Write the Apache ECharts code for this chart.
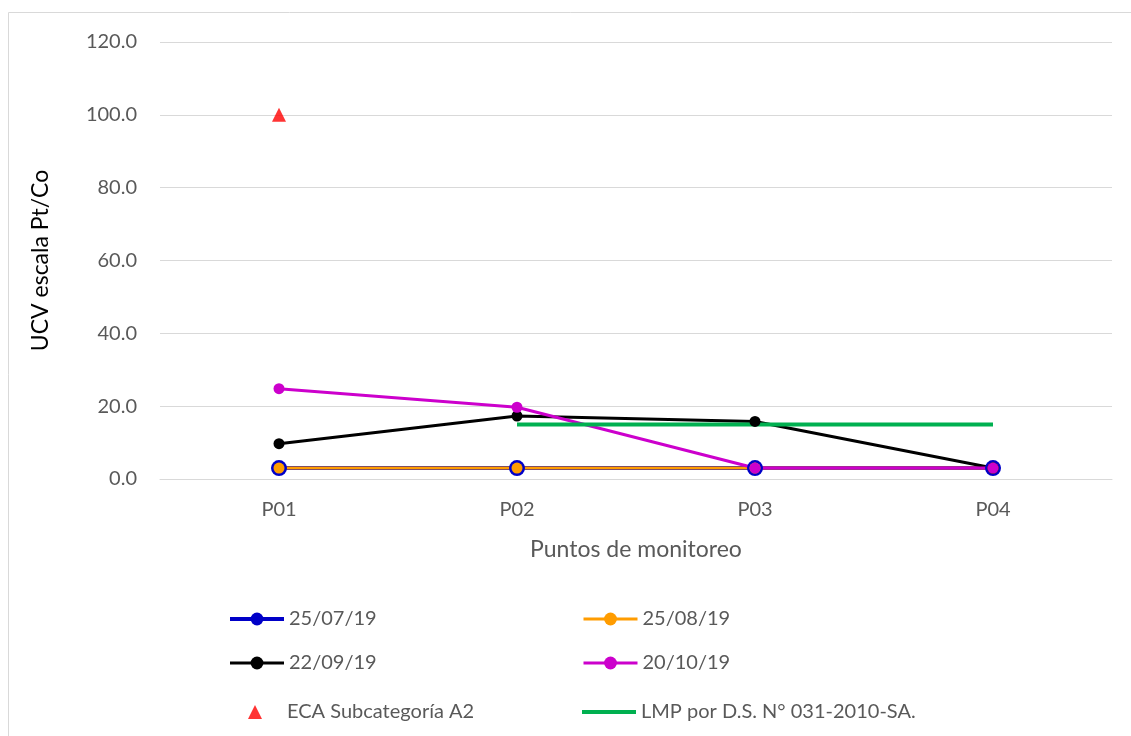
<!DOCTYPE html>
<html>
<head>
<meta charset="utf-8">
<script src="https://cdn.jsdelivr.net/npm/echarts@6/dist/echarts.min.js"></script>
<style>
  html, body { margin: 0; padding: 0; background: #fff; }
  #chart { width: 1131px; height: 736px; }
</style>
</head>
<body>
<div id="chart"></div>
<script>
// puntos de monitoreo
var puntos = ['P01', 'P02', 'P03', 'P04'];

// valores por fecha de muestreo
var julio = [3.0, 3.0, 3.0, 3.0];
var agosto = [3.0, 3.0, 3.0, 3.0];
var septiembre = [9.7, 17.3, 15.8, 3.0];
var octubre = [24.8, 19.7, 3.0, 3.0];

// estandares
var eca = [100, null, null, null];
var lmp = [null, 15, 15, 15];

var yTicks = [0, 20, 40, 60, 80, 100, 120];

var fuente = 'Lato';
var gris = '#595959';

var chart = echarts.init(document.getElementById('chart'));

function linea(nombre, datos, color, ancho, tam) {
  return {
    name: nombre,
    type: 'line',
    data: datos,
    symbol: 'circle',
    symbolSize: tam,
    lineStyle: { color: color, width: ancho },
    itemStyle: { color: color },
    z: 3
  };
}

// una leyenda por bloque, para alinear columnas como en el original
function leyenda(left, top, items, extra) {
  return Object.assign({
    orient: 'vertical',
    left: left,
    top: top,
    padding: 0,
    itemWidth: 54,
    itemHeight: 16,
    itemGap: 24,
    textStyle: { fontFamily: fuente, fontSize: 20, color: gris },
    data: items
  }, extra || {});
}

var option = {
  animation: false,
  textStyle: { fontFamily: fuente },
  graphic: [{
    type: 'rect',
    shape: { x: 8.5, y: 12.5, width: 1200, height: 800 },
    style: { fill: 'none', stroke: '#d9d9d9', lineWidth: 1 },
    silent: true
  }],
  grid: { left: 160, right: 19, top: 42, bottom: 257 },
  legend: [
    leyenda(228, 609, [
      { name: '25/07/19', lineStyle: { width: 4 } },
      { name: '22/09/19', lineStyle: { width: 3 } }
    ]),
    leyenda(582, 609, [
      { name: '25/08/19', lineStyle: { width: 3 } },
      { name: '20/10/19', lineStyle: { width: 3 } }
    ]),
    leyenda(248, 702, [{ name: 'ECA Subcategoría A2', icon: 'triangle' }], {
      itemWidth: 14,
      itemHeight: 14,
      textStyle: { fontFamily: fuente, fontSize: 20, color: gris, padding: [0, 0, 0, 20] }
    }),
    leyenda(582, 702, [{ name: 'LMP por D.S. N° 031-2010-SA.', icon: 'rect' }], {
      itemHeight: 4
    })
  ],
  xAxis: {
    type: 'category',
    data: puntos,
    boundaryGap: true,
    name: 'Puntos de monitoreo',
    nameLocation: 'middle',
    nameGap: 59,
    nameTextStyle: { fontFamily: fuente, fontSize: 23, color: gris },
    axisLine: { lineStyle: { color: '#d9d9d9', width: 1 } },
    axisTick: { show: false },
    axisLabel: { fontFamily: fuente, fontSize: 20, color: gris, margin: 21 }
  },
  yAxis: {
    type: 'value',
    min: yTicks[0],
    max: yTicks[yTicks.length - 1],
    interval: 20,
    name: 'UCV escala Pt/Co',
    nameLocation: 'middle',
    nameGap: 108,
    nameTextStyle: { fontFamily: fuente, fontSize: 23, color: '#000' },
    axisLine: { show: false },
    axisTick: { show: false },
    splitLine: { lineStyle: { color: '#d9d9d9', width: 1 } },
    axisLabel: {
      fontFamily: fuente, fontSize: 20, color: gris, margin: 23,
      formatter: function (v) { return v.toFixed(1); }
    }
  },
  series: [
    linea('25/07/19', julio, '#0000c8', 4, 16),
    linea('25/08/19', agosto, '#ff9c00', 3, 11),
    linea('22/09/19', septiembre, '#000000', 3, 11),
    linea('20/10/19', octubre, '#cc00cc', 3, 11),
    {
      name: 'ECA Subcategoría A2',
      type: 'scatter',
      data: eca,
      symbol: 'triangle',
      symbolSize: 14,
      itemStyle: { color: '#ff0000' },
      z: 4
    },
    {
      name: 'LMP por D.S. N° 031-2010-SA.',
      type: 'line',
      data: lmp,
      symbol: 'none',
      showSymbol: false,
      lineStyle: { color: '#00b050', width: 4 },
      itemStyle: { color: '#00b050' },
      z: 3
    }
  ]
};

chart.setOption(option);
</script>
</body>
</html>
